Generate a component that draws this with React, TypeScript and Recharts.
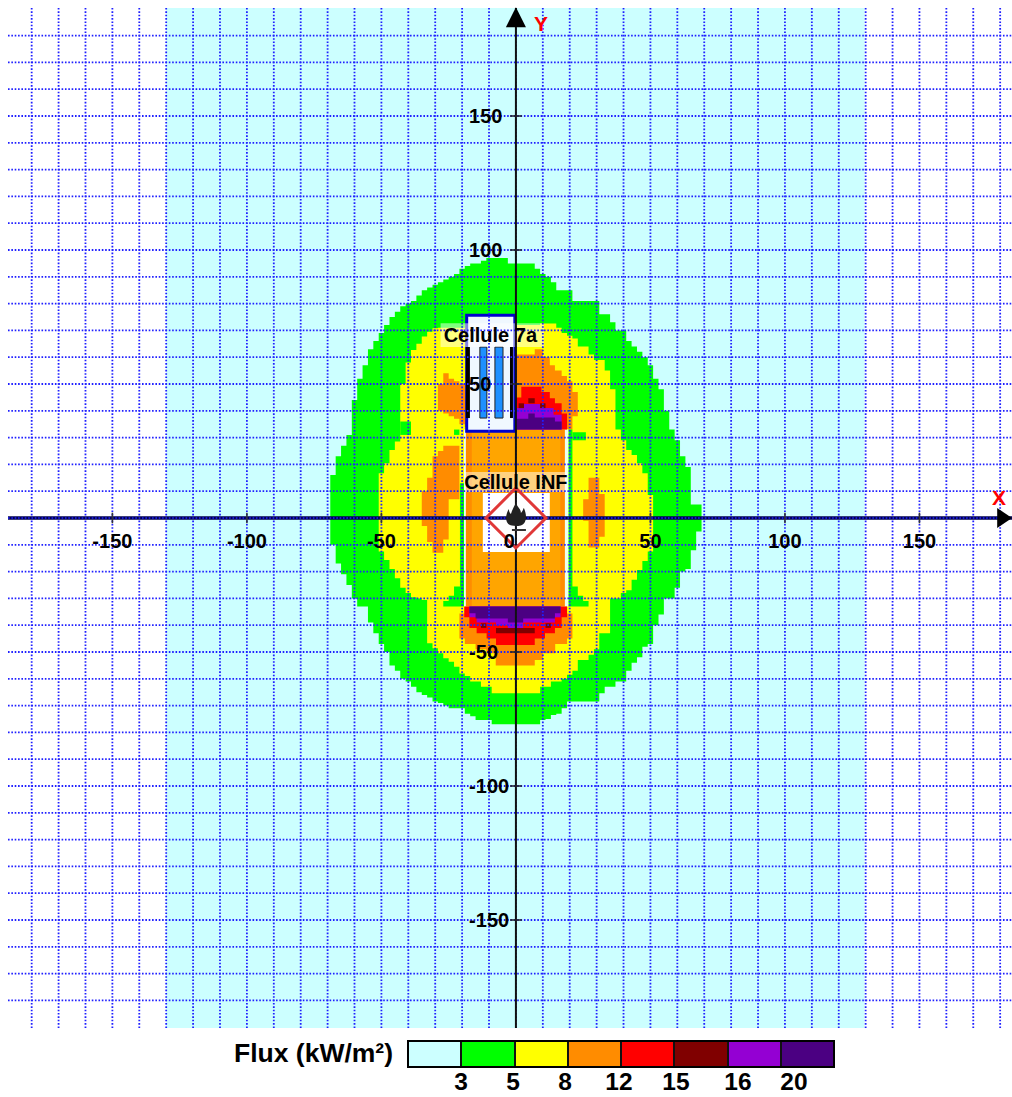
import React from "react";
import {
  Area,
  ComposedChart,
  ReferenceArea,
  ReferenceDot,
  ReferenceLine,
  XAxis,
  YAxis,
} from "recharts";

// thresholds and colours of the legend
const legendColors = ["#ccffff", "#00ff00", "#ffff00", "#ff8c00", "#ff0000", "#800000", "#9400d3", "#4b0082"];
const legendLabels = ["3", "5", "8", "12", "15", "16", "20"];
const legendLabelX = [461, 513, 565, 619, 676, 738, 794];

const gridX = [-180, -170, -160, -150, -140, -130, -120, -110, -100, -90, -80, -70, -60, -50, -40, -30, -20, -10, 0, 10, 20, 30, 40, 50, 60, 70, 80, 90, 100, 110, 120, 130, 140, 150, 160, 170, 180];
const gridY = gridX;
const xTickValues = [-150, -100, -50, 50, 100, 150];
const yTickValues = [150, 100, 50, -50, -100, -150];

// 3 kW/m2 contour, columns are x -> top / bottom
const greenX = [
  -69, -67, -65, -63, -61, -59, -57, -55, -53, -51,
  -49, -47, -45, -43, -41, -39, -37, -35, -33, -31,
  -29, -27, -25, -23, -21, -19, -17, -15, -13, -11,
  -9, -7, -5, -3, -1, 1, 3, 5, 7, 9,
  11, 13, 15, 17, 19, 21, 23, 25, 27, 29,
  31, 33, 35, 37, 39, 41, 43, 45, 47, 49,
  51, 53, 55, 57, 59, 61, 63, 65, 67, 69,
];
const greenHi = [
  16, 23, 27, 31, 44, 52, 57, 63, 66, 69,
  72, 75, 77, 79, 80, 81, 83, 85, 86, 87,
  88, 89, 90, 91, 93, 94, 95, 95, 96, 97,
  97, 97, 97, 95, 95, 95, 95, 95, 93, 91,
  90, 88, 85, 85, 85, 81, 81, 81, 81, 81,
  76, 76, 73, 70, 70, 66, 64, 62, 60, 57,
  52, 48, 40, 33, 29, 23, 19, 5, 5, 5,
];
const greenLo = [
  -10, -17, -21, -25, -30, -33, -33, -39, -43, -47,
  -50, -55, -57, -60, -61, -63, -65, -66, -67, -68.5,
  -69, -70, -71, -71, -71, -73, -74, -75.4, -75.4, -75.4,
  -77, -77, -77, -77, -77, -77, -77, -77, -77, -75.4,
  -75, -73.5, -73, -71, -68.5, -68.5, -68.5, -68.5, -68.5, -68.5,
  -65.4, -63, -63, -61, -61, -57, -54, -52, -48, -47,
  -40, -36, -30, -30, -26, -20, -19, -12, -5, -5,
];

// 5 kW/m2 contour
const yellowX = [
  -51, -49, -47, -45, -43, -41, -39, -37, -35, -33,
  -31, -29, -27, -25, -23, -21, -19, -17, -15, -13,
  -11, -9, -7, -5, -3, -1, 1, 3, 5, 7,
  9, 11, 13, 15, 17, 19, 21, 23, 25, 27,
  29, 31, 33, 35, 37, 39, 41, 43, 45, 47,
  49, 51,
];
const yellowHi = [
  16.7, 20.4, 25.4, 28.5, 50, 58, 62.7, 65, 67.7, 69.5,
  70.8, 71, 71, 71, 71, 71, 72, 72, 72, 72,
  72, 72, 72, 72, 72, 72, 72, 72, 72, 72,
  72.6, 72.6, 72.6, 71, 69, 68, 67, 64, 64, 61,
  59, 59, 55, 48, 33, 29, 25.4, 23.5, 20.4, 16.7,
  8.6, 8.6,
];
const yellowLo = [
  -12.5, -15.7, -19, -22.5, -26, -28, -29.6, -30, -30.6, -46.7,
  -48.6, -50.5, -52.3, -53.6, -55.5, -58, -59, -61, -61, -63,
  -63, -65.4, -65.4, -65.4, -65.4, -65.4, -65.4, -65.4, -65.4, -65.4,
  -63, -63, -61, -61, -60, -58.5, -57, -53, -53, -51,
  -49, -43, -43, -30, -30, -28, -27, -23, -19.4, -16,
  -12.5, -12.5,
];

// green bits that cut back into the yellow next to the buildings
const notchLeftX = [-43, -39];
const notchLeftHi = [36, 36];
const notchLeftLo = [31, 31];
const tipLeftX = [-27, -25, -23, -20.8, -19.3];
const tipLeftHi = [-31, -29, -25.6, 13, 13];
const tipLeftLo = [-33, -33, -33, -33, -33];
const tipRightX = [19.5, 21, 23, 25, 27];
const tipRightHi = [33, -25.6, -29, -31, -31];
const tipRightLo = [-33, -33, -33, -33, -33];
const dotRightX = [21, 26];
const dotRightHi = [32, 32];
const dotRightLo = [29, 29];
const dotLeftX = [-23, -21];
const dotLeftHi = [33, 33];
const dotLeftLo = [31, 31];

// 8 kW/m2 lobes
const orangeUpLeftX = [-29, -27, -25, -23, -21, -19, -17];
const orangeUpLeftHi = [50, 54, 52, 51, 50, 50, 50];
const orangeUpLeftLo = [40, 39, 38, 37, 35, 34, 34];
const orangeUpRightX = [0, 7, 10, 12.6, 14.5, 17, 19, 21, 23];
const orangeUpRightHi = [61, 63, 60, 57, 55, 53, 51, 47, 47];
const orangeUpRightLo = [33, 33, 33, 33, 33, 33, 33, 38, 38];
const orangeMidLeftX = [-35, -33, -31, -29, -27, -25, -21];
const orangeMidLeftHi = [10, 15, 23, 25, 27, 27, 27];
const orangeMidLeftLo = [-3, -9, -13, -13, -8, 7, 7];
const orangeMidRightX = [25, 27, 31, 33];
const orangeMidRightHi = [7, 15, 9, 9];
const orangeMidRightLo = [-1, -11, -7, -7];
const orangeBottomX = [-21, -19, -15, -11, -7.5, 7, 10, 14.6, 19, 21];
const orangeBottomHi = [-35.6, -33, -33, -33, -33, -33, -33, -33, -35.6, -35.6];
const orangeBottomLo = [-45, -47, -49, -50.5, -55, -53, -50.5, -47, -45, -45];

// 12 kW/m2
const redUpX = [0, 2, 4.6, 9.5, 12.6, 14.5, 17, 19];
const redUpHi = [45, 49, 49, 47, 44.7, 42.8, 39, 39];
const redUpLo = [33, 33, 33, 33, 33, 33, 33, 33];
const redDownX = [-19.2, -17.3, -14.6, -10.9, -7.4, 7, 10.8, 14.5, 17, 19];
const redDownHi = [-33, -33, -33, -33, -33, -33, -33, -33, -33, -33];
const redDownLo = [-37, -41, -43, -45, -47.4, -45, -43, -41, -37, -37];

// 15 kW/m2 specks
const darkRedA = [1, 3, 42.8, 41];
const darkRedB = [4.6, 7, 44.7, 42.8];
const darkRedC = [9, 11, 42.8, 41];
const darkRedD = [-7.4, 7, -41, -43];
const darkRedE = [-13, -11, -39.3, -41];
const darkRedF = [11, 13, -39.3, -41];

// 16 kW/m2
const purpleUpX = [0, 2, 9, 14, 17];
const purpleUpHi = [41, 42.5, 41, 38.5, 38.5];
const purpleUpLo = [33, 33, 33, 33, 33];
const purpleDownX = [-17.3, -14.6, -7.4, -3, 2.7, 14.5, 16.6];
const purpleDownHi = [-33, -33, -33, -33, -33, -33, -33];
const purpleDownLo = [-37, -39, -40, -41, -39, -37, -37];

// 20 kW/m2
const indigoUpX = [0, 4.6, 7, 14.5, 17];
const indigoUpHi = [37, 39, 37.5, 36, 36];
const indigoUpLo = [33, 33, 33, 33, 33];
const indigoDownX = [-17.3, -15, -3, 2.7, 14.5, 16.6];
const indigoDownHi = [-33, -33, -33, -33, -33, -33];
const indigoDownLo = [-35.5, -37.5, -39, -37.5, -35.5, -35.5];

const makeRows = (xs: number[], hi: number[], lo: number[]) =>
  xs.map((x, i) => ({ x, range: [lo[i], hi[i]] }));

const lowerPieces = [
  { key: "green", color: legendColors[1], rows: makeRows(greenX, greenHi, greenLo) },
  { key: "yellow", color: legendColors[2], rows: makeRows(yellowX, yellowHi, yellowLo) },
  { key: "notchLeft", color: legendColors[1], rows: makeRows(notchLeftX, notchLeftHi, notchLeftLo) },
  { key: "orangeUpLeft", color: legendColors[3], rows: makeRows(orangeUpLeftX, orangeUpLeftHi, orangeUpLeftLo) },
  { key: "orangeUpRight", color: legendColors[3], rows: makeRows(orangeUpRightX, orangeUpRightHi, orangeUpRightLo) },
  { key: "orangeMidLeft", color: legendColors[3], rows: makeRows(orangeMidLeftX, orangeMidLeftHi, orangeMidLeftLo) },
  { key: "orangeMidRight", color: legendColors[3], rows: makeRows(orangeMidRightX, orangeMidRightHi, orangeMidRightLo) },
  { key: "tipLeft", color: legendColors[1], rows: makeRows(tipLeftX, tipLeftHi, tipLeftLo) },
  { key: "tipRight", color: legendColors[1], rows: makeRows(tipRightX, tipRightHi, tipRightLo) },
  { key: "dotRight", color: legendColors[1], rows: makeRows(dotRightX, dotRightHi, dotRightLo) },
  { key: "dotLeft", color: legendColors[1], rows: makeRows(dotLeftX, dotLeftHi, dotLeftLo) },
  { key: "orangeBottom", color: legendColors[3], rows: makeRows(orangeBottomX, orangeBottomHi, orangeBottomLo) },
];

const upperPieces = [
  { key: "redUp", color: legendColors[4], rows: makeRows(redUpX, redUpHi, redUpLo) },
  { key: "redDown", color: legendColors[4], rows: makeRows(redDownX, redDownHi, redDownLo) },
  { key: "purpleUp", color: legendColors[6], rows: makeRows(purpleUpX, purpleUpHi, purpleUpLo) },
  { key: "purpleDown", color: legendColors[6], rows: makeRows(purpleDownX, purpleDownHi, purpleDownLo) },
  { key: "indigoUp", color: legendColors[7], rows: makeRows(indigoUpX, indigoUpHi, indigoUpLo) },
  { key: "indigoDown", color: legendColors[7], rows: makeRows(indigoDownX, indigoDownHi, indigoDownLo) },
];

const specks = [darkRedA, darkRedB, darkRedC, darkRedD, darkRedE, darkRedF];

// racks inside Cellule 7a: x1, x2, y1, y2
const blackBars = [[-18.6, -17.1, 63.8, 37.3], [-2.2, -1.1, 63.8, 37.3]];
const blueBars = [[-13.4, -10.8, 63.8, 37.3], [-7.8, -4.8, 63.8, 37.3]];

const labelFont = "'Liberation Sans', Arial, sans-serif";
const gridColor = "#2020ff";
const gridDash = "1.6 1.75";

const TickText = ({ cx, cy, value, anchor }: any) => (
  <text
    x={cx}
    y={cy}
    dy="0.36em"
    textAnchor={anchor}
    fontFamily={labelFont}
    fontWeight="bold"
    fontSize={20}
    fill="#000"
  >
    {value}
  </text>
);

const ArrowUp = ({ cx, cy }: any) => (
  <path d={`M${cx} ${cy - 11} L${cx + 10} ${cy + 9} L${cx - 10} ${cy + 9} Z`} fill="#000" />
);

const ArrowRight = ({ cx, cy }: any) => (
  <path d={`M${cx - 3} ${cy - 10} L${cx + 12} ${cy} L${cx - 3} ${cy + 10} Z`} fill="#000" />
);

const HazardSign = ({ cx, cy }: any) => (
  <g transform={`translate(${cx},${cy})`}>
    <path d="M0 -30 L30 0 L0 30 L-30 0 Z" fill="none" stroke="#e03838" strokeWidth={3} />
    <path
      d="M0 -15 C2 -10 5 -9 5 -5 C7 -7 7 -9 8 -10 C10 -5 11 0 9 4 C7 8 3 8 0 8 C-3 8 -7 8 -9 4 C-11 0 -9 -6 -7 -9 C-7 -6 -6 -5 -5 -4 C-4 -8 -2 -11 0 -15 Z"
      fill="#222"
    />
    <path d="M-4 12 L10 12" stroke="#333" strokeWidth={2} />
  </g>
);

const App = () => {
  return (
    <div style={{ position: "absolute", left: 0, top: 0, width: 1012, height: 1097, background: "#fff", overflow: "hidden" }}>
      <ComposedChart
        width={1012}
        height={1097}
        margin={{ top: 8, right: 0, bottom: 69, left: 8 }}
        data={greenX.map((x) => ({ x }))}
      >
        <XAxis dataKey="x" type="number" domain={[-188.8, 184.4]} hide allowDataOverflow />
        <YAxis type="number" domain={[-190.3, 190.3]} hide allowDataOverflow />

        <ReferenceArea x1={-130} x2={129.6} y1={-190.3} y2={190.3} fill={legendColors[0]} fillOpacity={1} stroke="none" />

        {lowerPieces.map((p) => (
          <Area
            key={p.key}
            data={p.rows}
            dataKey="range"
            type="stepAfter"
            fill={p.color}
            fillOpacity={1}
            stroke="none"
            dot={false}
            activeDot={false}
            isAnimationActive={false}
          />
        ))}

        {/* Cellule INF */}
        <ReferenceArea x1={-19.3} x2={19.5} y1={-33} y2={33} fill="#eafff2" fillOpacity={1} stroke="none" />
        <ReferenceArea x1={-18.6} x2={18.2} y1={-33} y2={33} fill="#ff8c00" fillOpacity={1} stroke="none" />
        <ReferenceArea x1={-16.4} x2={16.5} y1={-33} y2={33} fill="#ffa500" fillOpacity={1} stroke="none" />

        {upperPieces.map((p) => (
          <Area
            key={p.key}
            data={p.rows}
            dataKey="range"
            type="stepAfter"
            fill={p.color}
            fillOpacity={1}
            stroke="none"
            dot={false}
            activeDot={false}
            isAnimationActive={false}
          />
        ))}
        {specks.map((s, i) => (
          <ReferenceArea key={i} x1={s[0]} x2={s[1]} y1={s[2]} y2={s[3]} fill={legendColors[5]} fillOpacity={1} stroke="none" />
        ))}

        <ReferenceArea x1={-12.3} x2={12.6} y1={9.3} y2={-12.7} fill="#fff" fillOpacity={1} stroke="none" />
        <ReferenceArea x1={-19} x2={19} y1={17.2} y2={9.7} fill="#fff" fillOpacity={0.5} stroke="none" />

        {/* Cellule 7a */}
        <ReferenceArea x1={-18.3} x2={-0.4} y1={75.7} y2={32.4} fill="#f0f8ff" fillOpacity={1} stroke="#0000cd" strokeWidth={3} />
        {blackBars.map((b, i) => (
          <ReferenceArea key={i} x1={b[0]} x2={b[1]} y1={b[2]} y2={b[3]} fill="#000" fillOpacity={1} stroke="none" />
        ))}
        {blueBars.map((b, i) => (
          <ReferenceArea key={i} x1={b[0]} x2={b[1]} y1={b[2]} y2={b[3]} fill="#1e90ff" fillOpacity={1} stroke="#222" strokeWidth={1} />
        ))}
        <ReferenceArea x1={-28} x2={10.4} y1={72.7} y2={63.8} fill="#fff" fillOpacity={0.5} stroke="none" />

        {/* grid sits above the contours */}
        {gridX.map((v) => (
          <ReferenceLine key={`gx${v}`} x={v} stroke={gridColor} strokeWidth={1.8} strokeDasharray={gridDash} />
        ))}
        {gridY.filter((v) => v !== 0).map((v) => (
          <ReferenceLine key={`gy${v}`} y={v} stroke={gridColor} strokeWidth={1.8} strokeDasharray={gridDash} />
        ))}

        <ReferenceLine y={0} stroke="#000050" strokeWidth={3.4} />
        <ReferenceLine y={0} stroke={gridColor} strokeWidth={1.6} strokeDasharray={gridDash} />
        <ReferenceLine x={0} stroke="#111" strokeWidth={2} />
        {xTickValues.map((v) => (
          <ReferenceLine key={v} segment={[{ x: v, y: -2 }, { x: v, y: 2 }]} stroke="#333" strokeWidth={1.5} />
        ))}
        {yTickValues.map((v) => (
          <ReferenceLine key={v} segment={[{ x: -2.2, y: v }, { x: 2.2, y: v }]} stroke="#222" strokeWidth={1.5} />
        ))}

        <ReferenceDot x={0} y={0} r={0} shape={<HazardSign />} />
        <ReferenceDot x={0} y={186.5} r={0} shape={<ArrowUp />} />
        <ReferenceDot x={180} y={0} r={0} shape={<ArrowRight />} />

        {xTickValues.map((v) => (
          <ReferenceDot key={v} x={v} y={-8.6} r={0} shape={<TickText value={v} anchor="middle" />} />
        ))}
        <ReferenceDot x={-2.5} y={-8.6} r={0} shape={<TickText value="0" anchor="middle" />} />
        {yTickValues.map((v) => (
          <ReferenceDot key={v} x={-17.4} y={v} r={0} shape={<TickText value={v} anchor="start" />} />
        ))}

        <ReferenceDot x={-9.5} y={68.3} r={0} shape={<TickText value="Cellule 7a" anchor="middle" />} />
        <ReferenceDot x={0} y={13.4} r={0} shape={<TickText value="Cellule INF" anchor="middle" />} />
      </ComposedChart>

      <div style={{ position: "absolute", left: 534, top: 12, color: "#ff0000", font: `bold 21px ${labelFont}` }}>Y</div>
      <div style={{ position: "absolute", left: 992, top: 486, color: "#ff0000", font: `bold 21px ${labelFont}` }}>X</div>

      <div style={{ position: "absolute", left: 234, top: 1038, font: `bold 26.5px ${labelFont}`, whiteSpace: "nowrap" }}>
        Flux (kW/m²)
      </div>
      <div style={{ position: "absolute", left: 407, top: 1040, width: 428, height: 28, display: "flex", boxSizing: "border-box", border: "2.5px solid #000" }}>
        {legendColors.map((c, i) => (
          <div key={c} style={{ flex: 1, background: c, borderLeft: i ? "2.5px solid #111" : "none" }} />
        ))}
      </div>
      {legendLabels.map((l, i) => (
        <div
          key={l}
          style={{
            position: "absolute",
            left: legendLabelX[i] - 20,
            width: 40,
            top: 1068,
            height: 28,
            textAlign: "center",
            font: `bold 24.5px/28px ${labelFont}`,
          }}
        >
          {l}
        </div>
      ))}
    </div>
  );
};

export default App;
